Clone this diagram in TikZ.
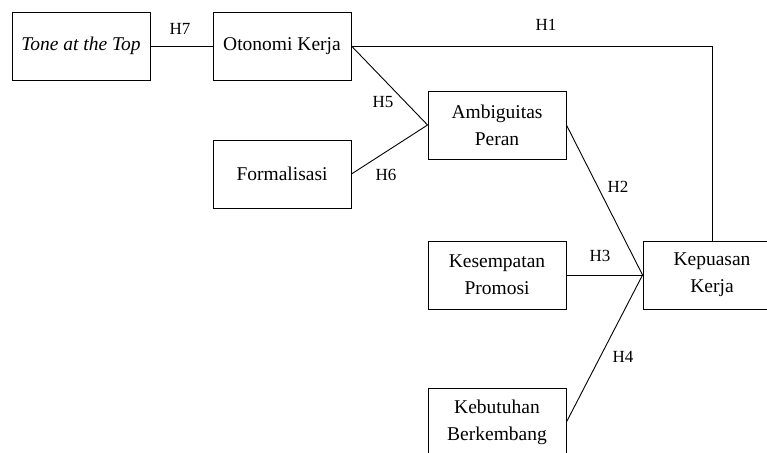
\documentclass[tikz,border=0pt]{standalone}
\usepackage{fontspec}
\setmainfont{Liberation Serif}
\usepackage{tikz}

\tikzset{
  varbox/.style={draw,line width=0.9pt,minimum width=138pt,minimum height=68pt,
    align=center,font=\fontsize{19.5}{27}\selectfont,inner sep=2pt},
  hlab/.style={font=\fontsize{17}{20}\selectfont,inner sep=1pt},
  link/.style={line width=0.9pt}
}

\begin{document}
\begin{tikzpicture}[x=1pt,y=-1pt]
\clip (0,0) rectangle (767,452);
\node[varbox] (tone) at (81,46) {\textit{Tone at the Top}};
\node[varbox] (oto) at (282,46) {Otonomi Kerja};
\node[varbox] (form) at (282,174) {Formalisasi};
\node[varbox] (amb) at (497,125) {Ambiguitas\\Peran};
\node[varbox] (kes) at (497,275) {Kesempatan\\Promosi};
\node[varbox] (keb) at (497,422) {Kebutuhan\\Berkembang};
\node[varbox] (kep) at (712,275) {Kepuasan\\Kerja};
\draw[link] (tone) -- (oto);
\draw[link] (oto.east) -- (oto.east -| kep.north) -- (kep.north);
\draw[link] (oto.east) -- (amb.west);
\draw[link] (form.east) -- (amb.west);
\draw[link] (amb.east) -- (kep.west);
\draw[link] (kes.east) -- (kep.west);
\draw[link] (keb.east) -- (kep.west);
\node[hlab] (h1) at (546,25) {H1};
\node[hlab] (h2) at (618,187) {H2};
\node[hlab] (h3) at (600,256) {H3};
\node[hlab] (h4) at (623,357) {H4};
\node[hlab] (h5) at (383,102) {H5};
\node[hlab] (h6) at (386,175) {H6};
\node[hlab] (h7) at (180,29) {H7};
\end{tikzpicture}
\end{document}
